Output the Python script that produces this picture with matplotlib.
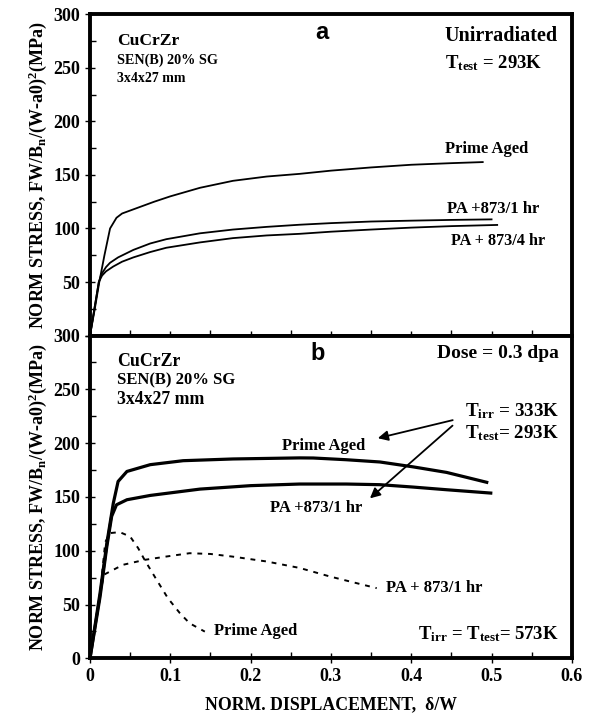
import matplotlib
matplotlib.use('Agg')
import matplotlib.pyplot as plt
from matplotlib.ticker import MultipleLocator

plt.rcParams['font.family'] = 'Liberation Serif'
plt.rcParams['font.weight'] = 'bold'
plt.rcParams['mathtext.fontset'] = 'custom'
plt.rcParams['mathtext.rm'] = 'Liberation Serif:bold'
plt.rcParams['mathtext.it'] = 'Liberation Serif:bold'
plt.rcParams['mathtext.bf'] = 'Liberation Serif:bold'

# panel a: unirradiated, Ttest = 293K
a_pa_x = [0, 0.006, 0.0116, 0.018, 0.025, 0.033, 0.04, 0.06, 0.08, 0.1, 0.137,
          0.178, 0.22, 0.261, 0.3, 0.35, 0.4, 0.45, 0.489]
a_pa_y = [0, 25, 50, 75, 100, 110, 114, 119.5, 125, 130, 138,
          144.5, 148.5, 151, 154, 157, 159.5, 161, 162]
a_h1_x = [0, 0.011, 0.014, 0.02, 0.025, 0.035, 0.054, 0.075, 0.095, 0.137,
          0.178, 0.22, 0.261, 0.3, 0.35, 0.4, 0.45, 0.5]
a_h1_y = [0, 50, 57, 64, 68, 73, 80, 86, 90, 95.5,
          99, 101.5, 103.5, 105, 106.5, 107.3, 108, 108.5]
a_h4_x = [0, 0.011, 0.015, 0.02, 0.029, 0.04, 0.054, 0.075, 0.095, 0.137,
          0.178, 0.22, 0.261, 0.3, 0.35, 0.4, 0.45, 0.507]
a_h4_y = [0, 50, 56, 60, 64.5, 69, 73, 78, 82, 87,
          91, 93.5, 95, 97, 99, 100.8, 102.2, 103.3]

# panel b: irradiated 0.3 dpa, Tirr = 333K, Ttest = 293K
b_pa_x = [0, 0.0125, 0.021, 0.029, 0.035, 0.046, 0.075, 0.116, 0.178, 0.261,
          0.278, 0.319, 0.361, 0.402, 0.444, 0.494]
b_pa_y = [0, 60.5, 107, 144, 164.4, 173.7, 180, 183.7, 185.3, 186.3,
          186.2, 184.6, 182.5, 178, 172.8, 163.6]
b_h1_x = [0, 0.0125, 0.021, 0.027, 0.033, 0.046, 0.075, 0.137, 0.2, 0.261,
          0.319, 0.361, 0.402, 0.444, 0.499]
b_h1_y = [0, 57, 104, 132, 142.7, 147.4, 151.4, 157.3, 160.5, 162,
          162, 161.4, 159.2, 156.7, 153.6]
# Tirr = Ttest = 573K (dotted)
b_pa573_x = [0, 0.0125, 0.019, 0.025, 0.037, 0.05, 0.06, 0.068, 0.083, 0.097,
             0.112, 0.124, 0.143]
b_pa573_y = [0, 60, 108, 116.4, 117.3, 113.2, 102.4, 91.5, 72.9, 55.9,
             41.9, 32.6, 24.8]
b_h1573_x = [0, 0.0125, 0.017, 0.041, 0.068, 0.095, 0.124, 0.15, 0.178, 0.22,
             0.261, 0.299, 0.357]
b_h1573_y = [0, 57, 77.6, 86.9, 91.5, 94.6, 97.7, 97, 94.5, 90,
             84, 76, 65.2]

xticks = [0, 0.1, 0.2, 0.3, 0.4, 0.5, 0.6]
xlabels = ['0', '0.1', '0.2', '0.3', '0.4', '0.5', '0.6']
yticks = [0, 50, 100, 150, 200, 250, 300]

fig = plt.figure(figsize=(5.92, 7.14), dpi=100)
ax1 = fig.add_axes([0.152, 0.530, 0.814, 0.450])
ax2 = fig.add_axes([0.152, 0.078, 0.814, 0.452])

ylab = 'NORM STRESS, FW/B$_\\mathregular{n}$/(W-a0)$^\\mathregular{2}$(MPa)'

for ax in (ax1, ax2):
    ax.set_xlim(0, 0.6)
    ax.set_ylim(0, 300)
    ax.set_yticks(yticks)
    ax.set_xticks(xticks)
    ax.set_xticklabels(xlabels)
    ax.xaxis.set_minor_locator(MultipleLocator(0.05))
    ax.yaxis.set_minor_locator(MultipleLocator(25))
    ax.tick_params(which='major', direction='inout', length=7, width=1, labelsize=13)
    ax.tick_params(which='minor', direction='in', length=4, width=1)
    for s in ax.spines.values():
        s.set_linewidth(2.8)
    ax.set_ylabel(ylab, fontsize=13, fontweight='bold', labelpad=3)

ax1.set_yticklabels(['', '50', '100', '150', '200', '250', '300'])
ax1.tick_params(axis='x', which='both', labelbottom=False)

# panel a curves
ax1.plot(a_pa_x, a_pa_y, 'k-', lw=1.3)
ax1.plot(a_h1_x, a_h1_y, 'k-', lw=1.3)
ax1.plot(a_h4_x, a_h4_y, 'k-', lw=1.3)

ax1.text(0.034, 275, 'CuCrZr', fontsize=12.6, va='center')
ax1.text(0.034, 257.5, 'SEN(B) 20% SG', fontsize=10.2, va='center')
ax1.text(0.034, 240, '3x4x27 mm', fontsize=10, va='center')
ax1.text(0.289, 283, 'a', fontsize=17, family='Liberation Sans', ha='center', va='center')
ax1.text(0.442, 280, 'Unirradiated', fontsize=14.5, va='center')
ax1.text(0.442, 254, 'T$_\\mathregular{test}$ = 293K', fontsize=13.5, va='center')
ax1.text(0.442, 174.5, 'Prime Aged', fontsize=12, va='center')
ax1.text(0.444, 118.5, 'PA +873/1 hr', fontsize=12, va='center')
ax1.text(0.450, 88.5, 'PA + 873/4 hr', fontsize=11.7, va='center')

# panel b curves
ax2.plot(b_pa_x, b_pa_y, 'k-', lw=2.3)
ax2.plot(b_h1_x, b_h1_y, 'k-', lw=2.3)
ax2.plot(b_pa573_x, b_pa573_y, 'k', lw=1.4, ls=(0, (2.5, 3)))
ax2.plot(b_h1573_x, b_h1573_y, 'k', lw=1.4, ls=(0, (2.5, 3)))

ax2.text(0.034, 276, 'CuCrZr', fontsize=12.8, va='center')
ax2.text(0.034, 258, 'SEN(B) 20% SG', fontsize=12, va='center')
ax2.text(0.034, 241, '3x4x27 mm', fontsize=12.8, va='center')
ax2.text(0.284, 283, 'b', fontsize=17, family='Liberation Sans', ha='center', va='center')
ax2.text(0.432, 283, 'Dose = 0.3 dpa', fontsize=14, va='center')
ax2.text(0.467, 230, 'T$_\\mathregular{irr}$ = 333K', fontsize=13.7, va='center')
ax2.text(0.467, 209.5, 'T$_\\mathregular{test}$= 293K', fontsize=13.7, va='center')
ax2.text(0.239, 197.5, 'Prime Aged', fontsize=12, va='center')
ax2.text(0.224, 140, 'PA +873/1 hr', fontsize=12, va='center')
ax2.text(0.368, 65.5, 'PA + 873/1 hr', fontsize=12, va='center')
ax2.text(0.154, 25, 'Prime Aged', fontsize=12, va='center')
ax2.text(0.408, 22, 'T$_\\mathregular{irr}$ = T$_\\mathregular{test}$= 573K', fontsize=13.5, va='center')

arrow = dict(arrowstyle='-|>', color='k', lw=1.3, mutation_scale=15)
ax2.annotate('', xy=(0.355, 204), xytext=(0.455, 222), arrowprops=arrow)
ax2.annotate('', xy=(0.346, 147), xytext=(0.454, 218), arrowprops=arrow)

ax2.set_xlabel('NORM. DISPLACEMENT,  \u03b4/W', fontsize=12.8, fontweight='bold', labelpad=8)

fig.savefig('out.png', dpi=100)
